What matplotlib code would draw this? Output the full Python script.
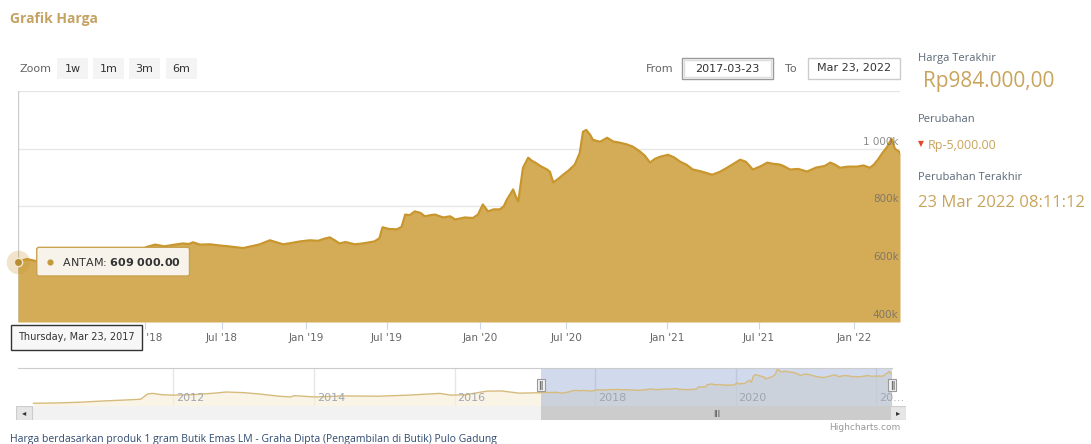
import matplotlib
matplotlib.use('Agg')
import matplotlib.pyplot as plt
import matplotlib.transforms as mtransforms
from matplotlib.patches import Rectangle
import numpy as np
import pandas as pd

# ANTAM price (thousand Rp) shown in the main chart
dates = ['2017-03-23', '2017-04-12', '2017-05-02', '2017-05-24', '2017-06-14', '2017-07-06',
         '2017-07-28', '2017-08-15', '2017-09-06', '2017-09-22', '2017-10-10', '2017-10-30',
         '2017-11-20', '2017-12-12', '2018-01-05', '2018-01-25', '2018-02-15', '2018-03-08',
         '2018-03-31', '2018-04-14', '2018-04-24', '2018-05-10', '2018-06-03', '2018-06-25',
         '2018-07-15', '2018-08-16', '2018-09-05', '2018-09-20', '2018-10-14', '2018-10-28',
         '2018-11-12', '2018-11-28', '2018-12-19', '2019-01-10', '2019-01-28', '2019-02-10',
         '2019-02-23', '2019-03-05', '2019-03-17', '2019-03-30', '2019-04-10', '2019-04-20',
         '2019-05-08', '2019-06-03', '2019-06-14', '2019-06-21', '2019-07-05', '2019-07-21',
         '2019-07-30', '2019-08-06', '2019-08-15', '2019-08-25', '2019-09-05', '2019-09-14',
         '2019-09-25', '2019-10-04', '2019-10-20', '2019-11-03', '2019-11-13', '2019-12-02',
         '2019-12-18', '2019-12-28', '2020-01-07', '2020-01-18', '2020-01-30', '2020-02-12',
         '2020-02-20', '2020-02-27', '2020-03-06', '2020-03-11', '2020-03-18', '2020-03-22',
         '2020-04-01', '2020-04-12', '2020-04-20', '2020-04-27', '2020-05-08', '2020-05-22',
         '2020-05-28', '2020-06-04', '2020-06-14', '2020-06-25', '2020-07-06', '2020-07-17',
         '2020-07-26', '2020-08-01', '2020-08-07', '2020-08-14', '2020-08-19', '2020-09-01',
         '2020-09-14', '2020-09-25', '2020-10-07', '2020-10-20', '2020-10-31', '2020-11-13',
         '2020-11-22', '2020-12-01', '2020-12-10', '2020-12-19', '2021-01-03', '2021-01-15',
         '2021-01-27', '2021-02-08', '2021-02-21', '2021-03-08', '2021-03-31', '2021-04-15',
         '2021-04-29', '2021-05-12', '2021-05-25', '2021-06-05', '2021-06-19', '2021-07-05',
         '2021-07-17', '2021-07-28', '2021-08-11', '2021-08-20', '2021-08-30', '2021-09-15',
         '2021-10-02', '2021-10-20', '2021-11-05', '2021-11-16', '2021-11-25', '2021-12-05',
         '2021-12-20', '2022-01-06', '2022-01-18', '2022-01-29', '2022-02-05', '2022-02-12',
         '2022-02-20', '2022-02-28', '2022-03-08', '2022-03-14', '2022-03-22', '2022-03-23']
prices = [609, 618, 611, 614, 617, 600,
          612, 622, 650, 656, 648, 652,
          650, 640, 660, 668, 662, 667,
          672, 670, 676, 668, 669, 665,
          662, 656, 663, 668, 683, 676,
          669, 673, 679, 683, 681, 688,
          693, 684, 672, 677, 673, 669,
          672, 679, 690, 728, 722, 721,
          730, 772, 770, 783, 778, 766,
          770, 772, 762, 766, 755, 762,
          760, 772, 807, 783, 790, 790,
          800, 824, 845, 859, 830, 817,
          934, 969, 958, 952, 940, 928,
          920, 883, 895, 910, 925, 945,
          985, 1059, 1065, 1048, 1031, 1024,
          1038, 1025, 1021, 1015, 1007, 990,
          975, 952, 965, 972, 979, 970,
          955, 945, 928, 922, 910, 920,
          934, 948, 962, 955, 928, 940,
          952, 948, 945, 938, 928, 930,
          921, 935, 940, 952, 945, 934,
          938, 938, 942, 934, 945, 962,
          985, 1005, 1035, 1000, 989, 984]

# older history only visible in the navigator
nav_dates = ['2010-01-04', '2010-05-01', '2010-09-01', '2011-01-03', '2011-05-02', '2011-07-15',
             '2011-08-20', '2011-09-15', '2011-11-01', '2012-01-02', '2012-05-01', '2012-08-01',
             '2012-10-01', '2013-01-02', '2013-04-01', '2013-07-01', '2013-09-01', '2013-09-20',
             '2013-11-01', '2014-01-02', '2014-06-01', '2014-12-01', '2015-05-01', '2015-10-15',
             '2015-12-15', '2016-03-01', '2016-06-15', '2016-09-01', '2016-12-01', '2017-02-01']
nav_prices = [399, 405, 420, 445, 465, 480,
              585, 595, 570, 560, 575, 600,
              623, 610, 580, 540, 525, 550,
              540, 525, 545, 540, 560, 595,
              560, 570, 640, 644, 600, 605]

tick_dates = ['2018-01-01', '2018-07-01', '2019-01-01', '2019-07-01', '2020-01-01',
              '2020-07-01', '2021-01-01', '2021-07-01', '2022-01-01']
tick_labels = ["Jan '18", "Jul '18", "Jan '19", "Jul '19", "Jan '20",
               "Jul '20", "Jan '21", "Jul '21", "Jan '22"]
y_ticks = [400, 600, 800, 1000]
nav_years = ['2012', '2014', '2016', '2018', '2020', '2022']
nav_labels = ['2012', '2014', '2016', '2018', '2020', '20…']

# highcharts ordinal axis: spacing follows point density, not calendar time
ord_anchor_dates = ['2017-03-23', '2018-01-01', '2018-07-01', '2019-01-01', '2019-07-01', '2020-01-01',
                    '2020-07-01', '2021-01-01', '2021-07-01', '2022-01-01', '2022-03-23']
ord_anchor_pos = [0, 127, 204, 288, 369, 462, 548, 649, 741, 836, 882]

GOLD = '#d4ac58'
GOLD_LINE = '#c8962c'
TXT_GOLD = '#c8a45c'
SLATE = '#5b6878'

W, H = 1091, 444
fig = plt.figure(figsize=(W / 100, H / 100), dpi=100)
SANS = ['Open Sans', 'DejaVu Sans']


def px_axes(left, top, right, bottom):
    return fig.add_axes([left / W, 1 - bottom / H, (right - left) / W, (bottom - top) / H])


def ftext(x, y, s, **kw):
    return fig.text(x / W, 1 - y / H, s, **kw)


def frect(l, t, r, b, **kw):
    fig.patches.append(Rectangle((l / W, 1 - b / H), (r - l) / W, (b - t) / H,
                                 transform=fig.transFigure, **kw))


def to_ord(ds):
    anchors = pd.to_datetime(ord_anchor_dates).map(pd.Timestamp.toordinal)
    vals = pd.to_datetime(ds).map(pd.Timestamp.toordinal)
    return np.interp(np.array(vals, dtype=float), np.array(anchors, dtype=float), ord_anchor_pos)


def kfmt(v):
    return f"{v * 1000:,.0f}".replace(",", " ")[:-4] + "k"


# ---- main chart ----
ax = px_axes(18, 91, 900, 322)
x = to_ord(dates)
ax.fill_between(x, prices, 400, color=GOLD, lw=0, zorder=2)
ax.plot(x, prices, color=GOLD_LINE, lw=1.6, zorder=3)
ax.set_xlim(0, ord_anchor_pos[-1])
ax.set_ylim(400, 1200)
for v in [600, 800, 1000, 1200]:
    ax.axhline(v, color='#e6e6e6', lw=1, zorder=1)
for sp in ax.spines.values():
    sp.set_visible(False)
ax.set_yticks([])
ax.set_xticks(to_ord(tick_dates))
ax.set_xticklabels(tick_labels)
ax.tick_params(axis='x', length=5, color='#ccd6eb', labelcolor='#666666', labelsize=7.5, pad=3)
for v in y_ticks:
    ax.annotate(kfmt(v), xy=(1, v), xycoords=('axes fraction', 'data'), xytext=(-1, 1.5),
                textcoords='offset points', ha='right', va='bottom', fontsize=7.5,
                color='#666666', alpha=0.75, zorder=5)

# hovered first point, crosshair and tooltip
x0, y0 = x[0], prices[0]
ax.axvline(x0, color='#cccccc', lw=1, zorder=1)
ax.plot(x0, y0, 'o', ms=17, color=GOLD_LINE, alpha=0.25, mec='none', zorder=6, clip_on=False)
ax.plot(x0, y0, 'o', ms=6, color='#b98d35', mec='#f3e6c8', mew=1, zorder=7, clip_on=False)
val = f"{y0 * 1000:,.2f}".replace(",", r"\ ")
ax.annotate("     ANTAM: $\\mathbf{" + val + "}$", xy=(x0, y0), xytext=(19.5, 0),
            textcoords='offset points', ha='left', va='center', fontsize=8, color='#333333',
            bbox=dict(boxstyle='round,pad=0.75,rounding_size=0.2', fc='#f7f3ea', ec='#c9a24f', lw=1),
            zorder=8, annotation_clip=False)
bullet_tr = mtransforms.offset_copy(ax.transData, fig=fig, x=23, y=0, units='points')
ax.plot(x0, y0, 'o', ms=4.5, color='#c39a3d', mec='none', transform=bullet_tr, zorder=9, clip_on=False)
ax.annotate("Thursday, Mar 23, 2017", xy=(x0, 0), xycoords=('data', 'axes fraction'),
            xytext=(0, -11), textcoords='offset points', ha='left', va='center', fontsize=7,
            color='#333333', bbox=dict(boxstyle='square,pad=0.75', fc='#f7f7f7', ec='#333333', lw=1),
            zorder=10, annotation_clip=False)

# ---- navigator ----
axn = px_axes(18, 368, 892, 406)
nd = pd.to_datetime(nav_dates + dates)
nv = nav_prices + prices
axn.fill_between(nd, nv, 0, color='#f7f0dc', alpha=0.7, lw=0)
axn.plot(nd, nv, color='#d6bb7c', lw=1)
axn.set_xlim(pd.Timestamp('2009-10-15'), pd.Timestamp('2022-03-23'))
axn.set_ylim(345, 1100)
sel0, sel1 = pd.Timestamp(dates[0]), pd.Timestamp(dates[-1])
axn.axvspan(sel0, sel1, color='#6685c2', alpha=0.3, lw=0)
for yr, lab in zip(nav_years, nav_labels):
    d = pd.Timestamp(yr + '-01-01')
    axn.axvline(d, color='#e6e6e6', lw=1, zorder=0)
    axn.annotate(lab, xy=(d, 0.2), xycoords=('data', 'axes fraction'), xytext=(2, 0),
                 textcoords='offset points', ha='left', va='center', fontsize=8, color='#a0a6b0')
axn.set_xticks([])
axn.set_yticks([])
for k, sp in axn.spines.items():
    sp.set_visible(k == 'top')
axn.spines['top'].set_color('#cccccc')
hb = mtransforms.blended_transform_factory(axn.transData, axn.transAxes)
for d in (sel0, sel1):
    axn.text(d, 0.55, "ǁ", transform=hb, ha='center', va='center', fontsize=6.5, color='#444444',
             bbox=dict(boxstyle='square,pad=0.2', fc='#f2f2f2', ec='#999999', lw=0.8),
             zorder=6, clip_on=False)

# ---- scrollbar ----
axs = px_axes(16, 406, 906, 420)
axs.set_facecolor('#f2f2f2')
axs.set_xticks([])
axs.set_yticks([])
for sp in axs.spines.values():
    sp.set_visible(False)
sb = mtransforms.blended_transform_factory(axn.transData, axs.transAxes)
n0, n1 = matplotlib.dates.date2num(sel0), matplotlib.dates.date2num(sel1)
axs.add_patch(Rectangle((n0, 0), n1 - n0, 1, transform=sb, fc='#cccccc', ec='none'))
axs.text((n0 + n1) / 2, 0.5, "|||", transform=sb, ha='center', va='center', fontsize=5, color='#333333')
bw = 16 / 890
axs.add_patch(Rectangle((0, 0), bw, 1, transform=axs.transAxes, fc='#e6e6e6', ec='#cccccc', lw=0.8))
axs.add_patch(Rectangle((1 - bw, 0), bw, 1, transform=axs.transAxes, fc='#e6e6e6', ec='#cccccc', lw=0.8))
axs.text(bw / 2, 0.5, "◂", transform=axs.transAxes, ha='center', va='center', fontsize=6, color='#333333')
axs.text(1 - bw / 2, 0.5, "▸", transform=axs.transAxes, ha='center', va='center', fontsize=6, color='#333333')

ftext(900, 427, "Highcharts.com", ha='right', va='center', fontsize=6.5, color='#999999')

# ---- header and range selector ----
ftext(10, 19, "Grafik Harga", ha='left', va='center', fontsize=10, fontweight='bold',
      color='#c4a262', family=SANS)
ftext(20, 69, "Zoom", ha='left', va='center', fontsize=8, color='#666666')
for lab, (l, r) in zip(['1w', '1m', '3m', '6m'], [(57, 88), (93, 124), (129, 160), (166, 197)]):
    frect(l, 58, r, 79, fc='#f4f4f4', ec='none')
    ftext((l + r) / 2, 69, lab, ha='center', va='center', fontsize=8, color='#333333')
ftext(646, 69, "From", ha='left', va='center', fontsize=8, color='#666666')
frect(682, 58, 773, 79, fc='white', ec='#999999', lw=1)
frect(684, 60, 771, 77, fc='none', ec='#dddddd', lw=1)
ftext(727, 68.5, "2017-03-23", ha='center', va='center', fontsize=8, color='#333333')
ftext(785, 69, "To", ha='left', va='center', fontsize=8, color='#666666')
frect(808, 58, 900, 79, fc='white', ec='#cccccc', lw=1)
ftext(854, 68.5, "Mar 23, 2022", ha='center', va='center', fontsize=8, color='#333333')

# ---- side panel ----
ftext(918, 58, "Harga Terakhir", ha='left', va='center', fontsize=8, color=SLATE, family=SANS)
ftext(923, 82, "Rp984.000,00", ha='left', va='center', fontsize=15, color=TXT_GOLD, family=SANS)
ftext(918, 120, "Perubahan", ha='left', va='center', fontsize=8, color=SLATE, family=SANS)
ftext(918, 145, "▼", ha='left', va='center', fontsize=5.5, color='#e0452a', family=SANS)
ftext(928, 145, "Rp-5,000.00", ha='left', va='center', fontsize=9, color=TXT_GOLD, family=SANS)
ftext(918, 177, "Perubahan Terakhir", ha='left', va='center', fontsize=8, color=SLATE, family=SANS)
ftext(918, 203, "23 Mar 2022 08:11:12", ha='left', va='center', fontsize=12, color=TXT_GOLD, family=SANS)

ftext(10, 439, "Harga berdasarkan produk 1 gram Butik Emas LM - Graha Dipta (Pengambilan di Butik) Pulo Gadung",
      ha='left', va='center', fontsize=7.5, color='#2f4a70', family=SANS)

fig.savefig('out.png', dpi=100)
